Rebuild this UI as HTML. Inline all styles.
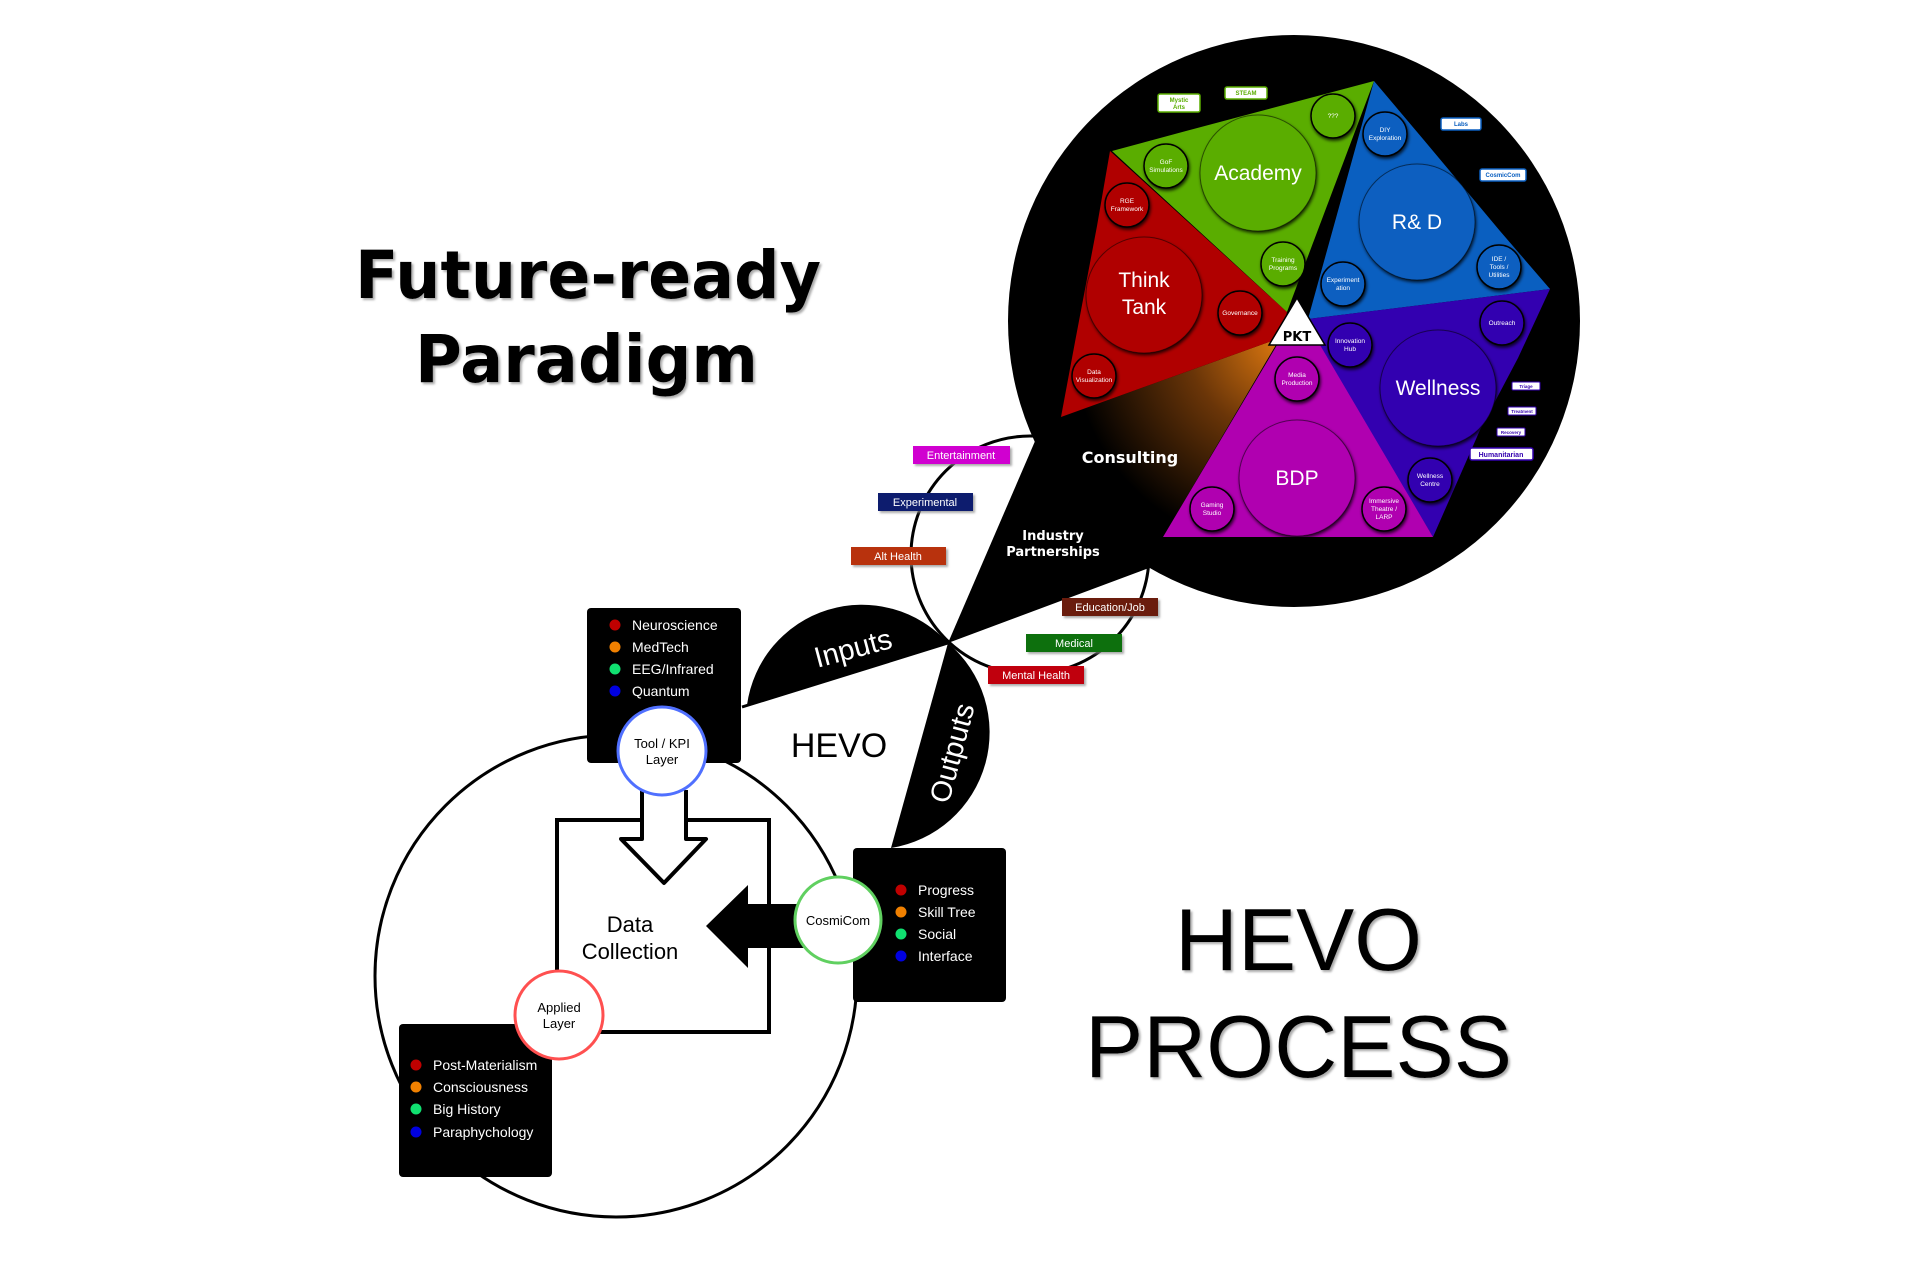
<!DOCTYPE html>
<html><head><meta charset="utf-8"><style>
html,body{margin:0;padding:0;background:#fff}
svg{display:block}
text{font-family:"Liberation Sans",sans-serif}
.b{font-family:"DejaVu Sans","Liberation Sans",sans-serif;font-weight:bold}
</style></head><body>
<svg width="1920" height="1280" viewBox="0 0 1920 1280" xmlns="http://www.w3.org/2000/svg">
<defs>
<radialGradient id="cg" cx="1282" cy="340" r="210" gradientUnits="userSpaceOnUse">
<stop offset="0" stop-color="#e07a10"/><stop offset="0.45" stop-color="#6a3508"/><stop offset="1" stop-color="#000"/>
</radialGradient>
<filter id="sh" x="-30%" y="-30%" width="160%" height="160%"><feDropShadow dx="1" dy="2" stdDeviation="1.5" flood-color="#000" flood-opacity="0.8"/></filter>
<filter id="gs" x="-20%" y="-20%" width="140%" height="140%"><feDropShadow dx="2" dy="2" stdDeviation="1" flood-color="#888" flood-opacity="0.7"/></filter>
</defs>

<!-- Titles -->
<text x="355" y="298" class="b" font-size="66" textLength="466" lengthAdjust="spacingAndGlyphs" filter="url(#gs)">Future-ready</text>
<text x="415" y="382" class="b" font-size="66" textLength="343" lengthAdjust="spacingAndGlyphs" filter="url(#gs)">Paradigm</text>
<text x="1175" y="970" font-size="88" textLength="247" lengthAdjust="spacingAndGlyphs" filter="url(#gs)">HEVO</text>
<text x="1085" y="1077" font-size="88" textLength="427" lengthAdjust="spacingAndGlyphs" filter="url(#gs)">PROCESS</text>

<!-- thin loop circle -->
<circle cx="1030" cy="555" r="119" fill="none" stroke="#000" stroke-width="3"/>
<!-- lower circle -->
<circle cx="616" cy="976" r="241" fill="none" stroke="#000" stroke-width="3"/>

<!-- Inputs / Outputs lobes -->
<path d="M747,705 L948,643 A116,116 0 0 0 747,705 Z" fill="#000"/>
<line x1="742" y1="707" x2="948" y2="643" stroke="#000" stroke-width="3"/>
<path d="M948,643 L891,848 A117,117 0 0 0 948,643 Z" fill="#000"/>
<text x="853" y="658" font-size="29" fill="#fff" text-anchor="middle" transform="rotate(-15 853 648)">Inputs</text>
<text x="952" y="763" font-size="29" fill="#fff" text-anchor="middle" transform="rotate(-75 952 753)">Outputs</text>

<!-- speech tail + big circle -->
<polygon points="948,643 1045,418 1165,562" fill="#000"/>
<circle cx="1294" cy="321" r="286" fill="#000"/>

<!-- tags on loop -->
<g font-size="11" fill="#fff" text-anchor="middle" filter="url(#gs)">
<rect x="913" y="446" width="97" height="18" fill="#d000d0"/><text x="961" y="459">Entertainment</text>
<rect x="878" y="493" width="95" height="18" fill="#0a1a6e"/><text x="925" y="506">Experimental</text>
<rect x="851" y="547" width="95" height="18" fill="#b83010"/><text x="898" y="560">Alt Health</text>
<rect x="1062" y="598" width="96" height="18" fill="#6a1a0a"/><text x="1110" y="611">Education/Job</text>
<rect x="1026" y="634" width="96" height="18" fill="#0a7010"/><text x="1074" y="647">Medical</text>
<rect x="988" y="666" width="96" height="18" fill="#c00010"/><text x="1036" y="679">Mental Health</text>
</g>

<!-- wedges -->
<polygon points="1061,417 1280,338 1163,537 1061,537" fill="url(#cg)"/>
<polygon points="1110,151 1097,226 1075,342 1061,417 1280,338 1287,312" fill="#b00000"/>
<polygon points="1112,151 1186,131 1374,81 1287,312" fill="#5aad00"/>
<polygon points="1308,319 1374,81 1423,139 1500,231 1550,289" fill="#0a5fc0"/>
<polygon points="1308,319 1550,289 1518,358 1480,430 1433,537 1318,345" fill="#3300b0"/>
<polygon points="1277,345 1320,345 1433,537 1163,537" fill="#b000b0"/>

<!-- big circles -->
<g filter="url(#sh)" stroke="#000" stroke-opacity="0.5" stroke-width="1">
<circle cx="1258" cy="173" r="58" fill="#5aad00"/>
<circle cx="1417" cy="222" r="58" fill="#0a5fc0"/>
<circle cx="1144" cy="295" r="58" fill="#b00000"/>
<circle cx="1438" cy="388" r="58" fill="#3300b0"/>
<circle cx="1297" cy="478" r="58" fill="#b000b0"/>
</g>
<g fill="#fff" text-anchor="middle" font-size="21">
<text x="1258" y="180">Academy</text>
<text x="1417" y="229">R&amp; D</text>
<text x="1144" y="287">Think</text><text x="1144" y="314">Tank</text>
<text x="1438" y="395">Wellness</text>
<text x="1297" y="485">BDP</text>
</g>

<!-- small circles -->
<g filter="url(#sh)" stroke="#000" stroke-width="1.5">
<circle cx="1333" cy="116" r="22" fill="#5aad00"/>
<circle cx="1166" cy="166" r="22" fill="#5aad00"/>
<circle cx="1283" cy="264" r="22" fill="#5aad00"/>
<circle cx="1127" cy="205" r="22" fill="#b00000"/>
<circle cx="1240" cy="313" r="22" fill="#b00000"/>
<circle cx="1094" cy="376" r="22" fill="#b00000"/>
<circle cx="1385" cy="134" r="22" fill="#0a5fc0"/>
<circle cx="1499" cy="267" r="22" fill="#0a5fc0"/>
<circle cx="1343" cy="284" r="22" fill="#0a5fc0"/>
<circle cx="1502" cy="323" r="22" fill="#3300b0"/>
<circle cx="1350" cy="345" r="22" fill="#3300b0"/>
<circle cx="1430" cy="480" r="22" fill="#3300b0"/>
<circle cx="1297" cy="379" r="22" fill="#b000b0"/>
<circle cx="1212" cy="509" r="22" fill="#b000b0"/>
<circle cx="1384" cy="509" r="22" fill="#b000b0"/>
</g>
<g fill="#fff" text-anchor="middle" font-size="6.5">
<text x="1333" y="118">???</text>
<text x="1166" y="164">GoF</text><text x="1166" y="172">Simulations</text>
<text x="1283" y="262">Training</text><text x="1283" y="270">Programs</text>
<text x="1127" y="203">RGE</text><text x="1127" y="211">Framework</text>
<text x="1240" y="315">Governance</text>
<text x="1094" y="374">Data</text><text x="1094" y="382">Visualization</text>
<text x="1385" y="132">DIY</text><text x="1385" y="140">Exploration</text>
<text x="1499" y="261">IDE /</text><text x="1499" y="269">Tools /</text><text x="1499" y="277">Utilities</text>
<text x="1343" y="282">Experiment</text><text x="1343" y="290">ation</text>
<text x="1502" y="325">Outreach</text>
<text x="1350" y="343">Innovation</text><text x="1350" y="351">Hub</text>
<text x="1430" y="478">Wellness</text><text x="1430" y="486">Centre</text>
<text x="1297" y="377">Media</text><text x="1297" y="385">Production</text>
<text x="1212" y="507">Gaming</text><text x="1212" y="515">Studio</text>
<text x="1384" y="503">Immersive</text><text x="1384" y="511">Theatre /</text><text x="1384" y="519">LARP</text>
</g>

<!-- PKT -->
<polygon points="1297,298 1269,345 1325,345" fill="#fff" stroke="#000" stroke-width="1.5"/>
<text x="1297" y="341" class="b" font-size="13" text-anchor="middle">PKT</text>

<!-- white tags -->
<g class="b" font-size="6" text-anchor="middle">
<rect x="1158" y="94" width="42" height="18" rx="2" fill="#fff" stroke="#5aad00" stroke-width="1.5"/><text x="1179" y="102" fill="#5aad00">Mystic</text><text x="1179" y="109" fill="#5aad00">Arts</text>
<rect x="1225" y="87" width="42" height="12" rx="2" fill="#fff" stroke="#5aad00" stroke-width="1.5"/><text x="1246" y="95" fill="#5aad00">STEAM</text>
<rect x="1441" y="118" width="40" height="12" rx="2" fill="#fff" stroke="#0a5fc0" stroke-width="1.5"/><text x="1461" y="126" fill="#0a5fc0">Labs</text>
<rect x="1480" y="169" width="46" height="12" rx="2" fill="#fff" stroke="#0a5fc0" stroke-width="1.5"/><text x="1503" y="177" fill="#0a5fc0">CosmicCom</text>
<rect x="1512" y="382" width="28" height="8" rx="1" fill="#fff" stroke="#3300b0"/><text x="1526" y="388" fill="#3300b0" font-size="4.5">Triage</text>
<rect x="1508" y="407" width="28" height="8" rx="1" fill="#fff" stroke="#3300b0"/><text x="1522" y="413" fill="#3300b0" font-size="4.5">Treatment</text>
<rect x="1497" y="428" width="28" height="8" rx="1" fill="#fff" stroke="#3300b0"/><text x="1511" y="434" fill="#3300b0" font-size="4.5">Recovery</text>
<rect x="1470" y="448" width="63" height="12" rx="2" fill="#fff" stroke="#3300b0" stroke-width="1.5"/><text x="1501" y="457" fill="#3300b0" font-size="7">Humanitarian</text>
</g>

<text x="1130" y="463" class="b" font-size="16" fill="#fff" text-anchor="middle">Consulting</text>
<text x="1053" y="540" class="b" font-size="13" fill="#fff" text-anchor="middle">Industry</text>
<text x="1053" y="556" class="b" font-size="13" fill="#fff" text-anchor="middle">Partnerships</text>

<!-- HEVO label -->
<text x="839" y="757" font-size="34" text-anchor="middle">HEVO</text>

<!-- Data collection box -->
<rect x="557" y="820" width="212" height="212" fill="#fff" stroke="#000" stroke-width="4"/>
<text x="630" y="932" font-size="22" text-anchor="middle">Data</text>
<text x="630" y="959" font-size="22" text-anchor="middle">Collection</text>
<!-- down arrow -->
<path d="M642,790 L642,839 L621,839 L664,883 L706,839 L686,839 L686,790" fill="#fff" stroke="#000" stroke-width="4" stroke-linejoin="round"/>
<!-- left arrow -->
<polygon points="706,926 748,885 748,904 805,904 805,948 748,948 748,968" fill="#000"/>

<!-- black boxes -->
<rect x="587" y="608" width="154" height="155" rx="4" fill="#000"/>
<rect x="853" y="848" width="153" height="154" rx="4" fill="#000"/>
<rect x="399" y="1024" width="153" height="153" rx="4" fill="#000"/>

<g font-size="14" fill="#fff">
<circle cx="615" cy="625" r="5.5" fill="#c00000"/><text x="632" y="630">Neuroscience</text>
<circle cx="615" cy="647" r="5.5" fill="#f08000"/><text x="632" y="652">MedTech</text>
<circle cx="615" cy="669" r="5.5" fill="#10e070"/><text x="632" y="674">EEG/Infrared</text>
<circle cx="615" cy="691" r="5.5" fill="#0000e0"/><text x="632" y="696">Quantum</text>

<circle cx="901" cy="890" r="5.5" fill="#c00000"/><text x="918" y="895">Progress</text>
<circle cx="901" cy="912" r="5.5" fill="#f08000"/><text x="918" y="917">Skill Tree</text>
<circle cx="901" cy="934" r="5.5" fill="#10e070"/><text x="918" y="939">Social</text>
<circle cx="901" cy="956" r="5.5" fill="#0000e0"/><text x="918" y="961">Interface</text>

<circle cx="416" cy="1065" r="5.5" fill="#c00000"/><text x="433" y="1070">Post-Materialism</text>
<circle cx="416" cy="1087" r="5.5" fill="#f08000"/><text x="433" y="1092">Consciousness</text>
<circle cx="416" cy="1109" r="5.5" fill="#10e070"/><text x="433" y="1114">Big History</text>
<circle cx="416" cy="1132" r="5.5" fill="#0000e0"/><text x="433" y="1137">Paraphychology</text>
</g>

<!-- layer circles -->
<circle cx="662" cy="751" r="44" fill="#fff" stroke="#5070ff" stroke-width="3"/>
<text x="662" y="748" font-size="13" text-anchor="middle">Tool / KPI</text>
<text x="662" y="764" font-size="13" text-anchor="middle">Layer</text>
<circle cx="838" cy="920" r="43" fill="#fff" stroke="#60d060" stroke-width="3"/>
<text x="838" y="925" font-size="13" text-anchor="middle">CosmiCom</text>
<circle cx="559" cy="1015" r="44" fill="#fff" stroke="#ff5050" stroke-width="3"/>
<text x="559" y="1012" font-size="13" text-anchor="middle">Applied</text>
<text x="559" y="1028" font-size="13" text-anchor="middle">Layer</text>
</svg>
</body></html>
